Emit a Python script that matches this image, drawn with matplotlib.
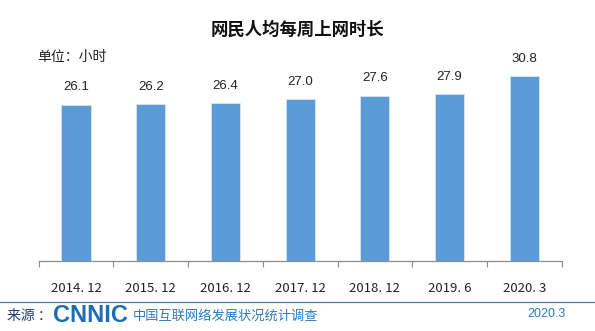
import numpy as np
import matplotlib
matplotlib.use("Agg")
import matplotlib.pyplot as plt

plt.rcParams['font.family'] = ['Noto Sans CJK SC', 'DejaVu Sans']

# 数据
periods = ["2014. 12", "2015. 12", "2016. 12", "2017. 12", "2018. 12", "2019. 6", "2020. 3"]
hours = [26.1, 26.2, 26.4, 27.0, 27.6, 27.9, 30.8]

title = "网民人均每周上网时长"
unit_label = "单位：小时"
source_label = "来源 ："
source_name = "中国互联网络发展状况统计调查"
source_date = "2020.3"

fig = plt.figure(figsize=(5.95, 3.31), dpi=100, facecolor="white")

ax = fig.add_axes([0.065, 0.2115, 0.879, 0.634])
x = np.arange(len(periods))
ax.bar(x, hours, width=0.39, color="#5B9BD5", edgecolor="#d6e6f2",
       linewidth=0.6, zorder=3)

for xi, v in zip(x, hours):
    ax.annotate(f"{v:.1f}", (xi, v), xytext=(0, 8), textcoords="offset points",
                ha="center", va="bottom", fontsize=9.5, color="#222222",
                family="Liberation Sans")

ax.set_xlim(-0.5, len(periods) - 0.5)
ax.set_ylim(0, 35)
ax.set_xticks(np.arange(-0.5, len(periods), 1.0))
ax.set_xticklabels([])
ax.tick_params(axis="x", which="major", length=4, color="#8c8c8c", width=0.8)
ax.set_xticks(x, minor=True)
ax.set_xticklabels(periods, minor=True, fontsize=9.5, color="#222222")
ax.tick_params(axis="x", which="minor", length=0, pad=15)
ax.set_yticks([])
for s in ["top", "right", "left"]:
    ax.spines[s].set_visible(False)
ax.spines["bottom"].set_color("#8c8c8c")
ax.spines["bottom"].set_linewidth(0.9)

fig.text(0.5, 1 - 30 / 331, title, ha="center", va="center", fontsize=12.5,
         fontweight="bold", color="#111111")
fig.text(37 / 595, 1 - 57 / 331, unit_label, ha="left", va="center",
         fontsize=10, color="#222222")

# 底部来源
fig.add_artist(plt.Line2D([0, 1], [1 - 302 / 331] * 2, color="#4a7a96",
                          linewidth=0.9))
fig.text(7 / 595, 1 - 316 / 331, source_label, ha="left", va="center",
         fontsize=10, color="#1f3f66")
fig.text(53 / 595, 1 - 316 / 331, "CNNIC", ha="left", va="center",
         fontsize=17, fontweight="bold", color="#1d6db5",
         family="Liberation Sans")
fig.text(133 / 595, 1 - 316 / 331, source_name, ha="left", va="center",
         fontsize=9.5, color="#2b7bbf")
fig.text(527 / 595, 1 - 314 / 331, source_date, ha="left", va="center",
         fontsize=9, color="#2b7bbf", family="Liberation Sans")

fig.savefig("out.png", dpi=100, facecolor="white")
